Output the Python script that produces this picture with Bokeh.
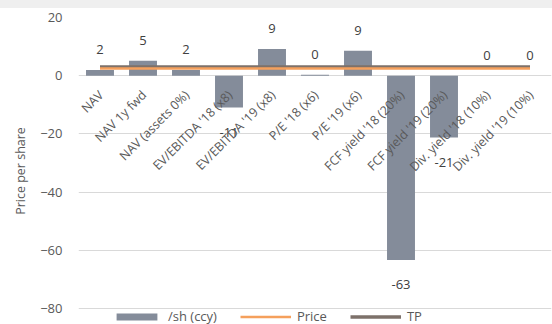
import math

from bokeh.core.properties import value
from bokeh.embed import file_html
from bokeh.layouts import column
from bokeh.models import (ColumnDataSource, Div, FactorRange, FixedTicker,
                          Legend, LegendItem, Range1d)
from bokeh.plotting import figure
from bokeh.resources import INLINE

# Valuation methods and the resulting price per share
categories = [
    "NAV",
    "NAV 1y fwd",
    "NAV (assets 0%)",
    "EV/EBITDA '18 (x8)",
    "EV/EBITDA '19 (x8)",
    "P/E '18 (x6)",
    "P/E '19 (x6)",
    "FCF yield '18 (20%)",
    "FCF yield '19 (20%)",
    "Div. yield '18 (10%)",
    "Div. yield '19 (10%)",
]
per_share = [2.0, 5.1, 2.0, -10.9, 9.2, 0.3, 8.6, -63.3, -21.2, 0.0, 0.0]
price = 2.5
target_price = 3.0
y_ticks = [-80, -60, -40, -20, 0, 20]

FONT = value("Open Sans")
n = len(categories)

src = ColumnDataSource(dict(
    cat=categories,
    val=per_share,
    lab=["%.0f" % round(v) for v in per_share],
    lab_off=[-20 if v >= 0 else 25 for v in per_share],
    zero=[0] * n,
    price=[price] * n,
    tp=[target_price] * n,
))

# the frame runs a little below -80 so the legend row sits under the last gridline
p = figure(
    x_range=FactorRange(*categories, range_padding=0),
    y_range=Range1d(-85.5, 20),
    width=552, height=316,
    output_backend="svg", toolbar_location=None,
    min_border_left=78, min_border_right=1,
    min_border_top=9, min_border_bottom=0,
)
p.outline_line_color = None
p.background_fill_color = "white"
p.border_fill_color = "white"

bars = p.vbar(x="cat", top="val", bottom=0, width=0.65, source=src,
              fill_color="#848c9a", line_color=None)
tp_line = p.line(x="cat", y="tp", source=src, line_color="#7d716a", line_width=3.5)
price_line = p.line(x="cat", y="price", source=src, line_color="#f5a05c", line_width=2.5)

# value labels above positive bars, below negative ones
p.text(x="cat", y="val", text="lab", y_offset="lab_off", source=src,
       text_align="center", text_baseline="middle",
       text_font=FONT, text_font_size="13px", text_color="#404040")

# category labels hang diagonally off the zero line
p.text(x="cat", y="zero", text="cat", source=src, angle=math.pi / 4,
       x_offset=1, y_offset=17, text_align="right", text_baseline="middle",
       text_font=FONT, text_font_size="12.5px", text_color="#595959")

p.xaxis.visible = False
p.xgrid.grid_line_color = None
p.ygrid.grid_line_color = "#d9d9d9"
p.ygrid.ticker = FixedTicker(ticks=y_ticks)

ax = p.yaxis[0]
ax.ticker = FixedTicker(ticks=y_ticks)
ax.axis_line_color = None
ax.major_tick_line_color = None
ax.minor_tick_line_color = None
ax.major_tick_out = 0
ax.major_tick_in = 0
ax.major_label_standoff = 16
ax.major_label_text_font = "Open Sans"
ax.major_label_text_font_size = "13px"
ax.major_label_text_color = "#595959"
ax.axis_label = "Price per share"
ax.axis_label_standoff = 8
ax.axis_label_text_font = "Open Sans"
ax.axis_label_text_font_size = "12.5px"
ax.axis_label_text_font_style = "normal"
ax.axis_label_text_color = "#595959"

legend = Legend(
    items=[
        LegendItem(label="/sh (ccy)", renderers=[bars]),
        LegendItem(label="Price", renderers=[price_line]),
        LegendItem(label="TP", renderers=[tp_line]),
    ],
    orientation="horizontal",
    location=(33, -1),
    glyph_width=51, glyph_height=9,
    label_height=9, label_standoff=6, spacing=23,
    padding=0, margin=0,
    border_line_color=None, background_fill_alpha=0,
    label_text_font="Open Sans", label_text_font_size="13px",
    label_text_color="#595959",
)
p.add_layout(legend)

band = Div(width=552, height=8, margin=0,
           styles={"background-color": "#efefef"})
page = column(band, p, spacing=0, margin=0)

open("out.html", "w").write(file_html(page, INLINE))
